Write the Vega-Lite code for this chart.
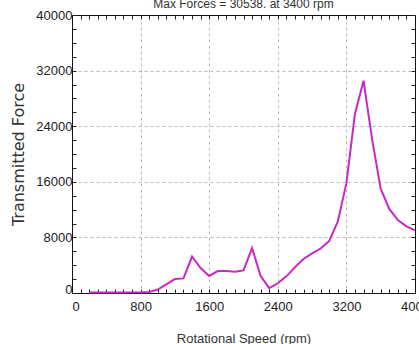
{
  "$schema": "https://vega.github.io/schema/vega-lite/v6.json",
  "autosize": {"type": "none"},
  "padding": {"left": 72, "top": 15, "right": 4, "bottom": 51},
  "width": 343,
  "height": 278,
  "background": "white",
  "title": {
    "text": "Max Forces = 30538. at 3400 rpm",
    "font": "Liberation Sans",
    "fontSize": 12,
    "fontWeight": "normal",
    "color": "#333333",
    "anchor": "middle",
    "baseline": "alphabetic",
    "offset": 0,
    "dy": 11
  },
  "config": {
    "view": {"stroke": null},
    "axis": {
      "labelFont": "Liberation Sans",
      "labelFontSize": 13,
      "labelColor": "#222222",
      "titleFont": "Liberation Sans",
      "titleFontWeight": "normal",
      "titleColor": "#333333",
      "domainColor": "#111111",
      "domainWidth": 1,
      "tickColor": "#222222",
      "tickWidth": 1,
      "tickSize": -4
    }
  },
  "data": {
    "values": [
      {"rpm": 200, "force": 60},
      {"rpm": 300, "force": 60},
      {"rpm": 400, "force": 70},
      {"rpm": 500, "force": 70},
      {"rpm": 600, "force": 80},
      {"rpm": 700, "force": 90},
      {"rpm": 800, "force": 100},
      {"rpm": 900, "force": 150},
      {"rpm": 1000, "force": 500},
      {"rpm": 1100, "force": 1250},
      {"rpm": 1200, "force": 2000},
      {"rpm": 1300, "force": 2100},
      {"rpm": 1400, "force": 5250},
      {"rpm": 1500, "force": 3600},
      {"rpm": 1600, "force": 2450},
      {"rpm": 1700, "force": 3150},
      {"rpm": 1800, "force": 3150},
      {"rpm": 1900, "force": 3050},
      {"rpm": 2000, "force": 3250},
      {"rpm": 2100, "force": 6450},
      {"rpm": 2200, "force": 2450},
      {"rpm": 2300, "force": 700},
      {"rpm": 2400, "force": 1400},
      {"rpm": 2500, "force": 2400},
      {"rpm": 2600, "force": 3700},
      {"rpm": 2700, "force": 4900},
      {"rpm": 2800, "force": 5700},
      {"rpm": 2900, "force": 6400},
      {"rpm": 3000, "force": 7500},
      {"rpm": 3100, "force": 10300},
      {"rpm": 3200, "force": 15800},
      {"rpm": 3300, "force": 25800},
      {"rpm": 3400, "force": 30538},
      {"rpm": 3500, "force": 22100},
      {"rpm": 3600, "force": 15000},
      {"rpm": 3700, "force": 12100},
      {"rpm": 3800, "force": 10500},
      {"rpm": 3900, "force": 9600},
      {"rpm": 4000, "force": 9000}
    ]
  },
  "resolve": {"axis": {"x": "independent", "y": "independent"}},
  "layer": [
    {
      "mark": {"type": "line", "color": "#c828c8", "strokeWidth": 2},
      "encoding": {
        "x": {
          "field": "rpm",
          "type": "quantitative",
          "scale": {"domain": [0, 4000], "nice": false, "zero": false},
          "axis": {
            "orient": "bottom",
            "title": "Rotational Speed (rpm)",
            "titleFontSize": 13,
            "titlePadding": 19,
            "values": [0,100,200,300,400,500,600,700,800,900,1000,1100,1200,1300,1400,1500,1600,1700,1800,1900,2000,2100,2200,2300,2400,2500,2600,2700,2800,2900,3000,3100,3200,3300,3400,3500,3600,3700,3800,3900,4000],
            "labelExpr": "datum.value % 800 === 0 ? datum.value : ''",
            "labelAlign": {"condition": {"test": "datum.value === 0", "value": "left"}, "value": "center"},
            "labelPadding": 11,
            "labelFlush": false,
            "labelOverlap": false,
            "grid": true,
            "gridDash": [3, 3],
            "gridColor": "#b8b8b8",
            "gridOpacity": {"condition": {"test": "datum.value % 800 === 0 && datum.value > 0 && datum.value < 4000", "value": 1}, "value": 0}
          }
        },
        "y": {
          "field": "force",
          "type": "quantitative",
          "scale": {"domain": [0, 40000], "nice": false},
          "axis": {
            "orient": "left",
            "title": "Transmitted Force",
            "titleFont": "DejaVu Sans",
            "titleFontSize": 16,
            "titlePadding": 9,
            "values": [0,2000,4000,6000,8000,10000,12000,14000,16000,18000,20000,22000,24000,26000,28000,30000,32000,34000,36000,38000,40000],
            "labelExpr": "datum.value % 8000 === 0 ? datum.value : ''",
            "labelBaseline": {"condition": {"test": "datum.value === 0", "value": "alphabetic"}, "value": "middle"},
            "labelPadding": 4,
            "labelFlush": false,
            "labelOverlap": false,
            "grid": true,
            "gridDash": [3, 3],
            "gridColor": "#b8b8b8",
            "gridOpacity": {"condition": {"test": "datum.value % 8000 === 0 && datum.value > 0 && datum.value < 40000", "value": 1}, "value": 0}
          }
        }
      }
    },
    {
      "mark": {"type": "line", "opacity": 0},
      "encoding": {
        "x": {
          "field": "rpm",
          "type": "quantitative",
          "axis": {
            "orient": "top",
            "title": null,
            "labels": false,
            "grid": false,
            "values": [0,100,200,300,400,500,600,700,800,900,1000,1100,1200,1300,1400,1500,1600,1700,1800,1900,2000,2100,2200,2300,2400,2500,2600,2700,2800,2900,3000,3100,3200,3300,3400,3500,3600,3700,3800,3900,4000]
          }
        },
        "y": {
          "field": "force",
          "type": "quantitative",
          "axis": {
            "orient": "right",
            "title": null,
            "labels": false,
            "grid": false,
            "values": [0,2000,4000,6000,8000,10000,12000,14000,16000,18000,20000,22000,24000,26000,28000,30000,32000,34000,36000,38000,40000]
          }
        }
      }
    }
  ]
}
